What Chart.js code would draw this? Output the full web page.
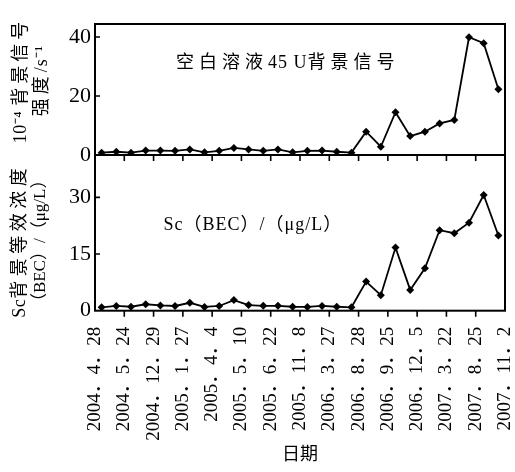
<!DOCTYPE html>
<html>
<head>
<meta charset="utf-8">
<script src="https://cdn.jsdelivr.net/npm/chart.js@4.4.1/dist/chart.umd.min.js"></script>
<style>
  html, body { margin: 0; padding: 0; background: #fff; }
</style>
</head>
<body>
<canvas id="bec-chart" width="515" height="472"></canvas>
<script>
// x: sampling order, one point per measurement date
const sampleIdx = [0, 1, 2, 3, 4, 5, 6, 7, 8, 9, 10, 11, 12, 13, 14, 15, 16, 17, 18, 19, 20, 21, 22, 23, 24, 25, 26, 27];
const dateLabels = ['2004．4．28', '2004．5．24', '2004．12．29', '2005．1．27', '2005．4．4', '2005．5．10', '2005．6．22',
  '2005．11．8', '2006．3．27', '2006．8．28', '2006．9．25', '2006．12．5', '2007．3．22', '2007．8．25', '2007．11．2'];
// 空白溶液45 U背景信号 (10^-4 s^-1)
const signalU = [0.8, 1.1, 0.8, 1.5, 1.5, 1.4, 1.9, 0.9, 1.4, 2.4, 1.9, 1.4, 1.9, 0.9, 1.4, 1.5, 1.1, 0.8,
  7.9, 2.8, 14.5, 6.4, 7.9, 10.7, 11.9, 39.9, 37.9, 22.3];
// Sc(BEC) (ug/L)
const becSc = [0.9, 1.25, 1.05, 1.7, 1.4, 1.25, 2.1, 1.0, 1.25, 2.8, 1.5, 1.3, 1.3, 1.05, 1.0, 1.25, 1.05, 0.9,
  7.7, 4.1, 16.7, 5.5, 11.2, 21.3, 20.5, 23.3, 30.6, 19.9];
const topTicks = [0, 20, 40];
const botTicks = [0, 15, 30];

const serif = "'Liberation Serif', 'Noto Sans CJK SC', serif";

const toPoints = vals => sampleIdx.map((x, i) => ({x: x, y: vals[i]}));

const lineStyle = {
  borderColor: '#000',
  borderWidth: 1.8,
  pointStyle: 'rectRot',
  pointRadius: 4,
  pointBackgroundColor: '#000',
  pointBorderColor: '#000',
  pointBorderWidth: 0,
  tension: 0,
  fill: false
};

// draws text pieces [text, letterSpacing] centred on (x, y), optionally rotated
function pieces(ctx, parts, x, y, rot) {
  ctx.save();
  ctx.translate(x, y);
  if (rot) ctx.rotate(rot);
  ctx.textAlign = 'left';
  ctx.textBaseline = 'middle';
  const widths = parts.map(p => { ctx.letterSpacing = p[1] + 'px'; return ctx.measureText(p[0]).width; });
  let cx = -widths.reduce((a, b) => a + b, 0) / 2;
  parts.forEach((p, i) => {
    ctx.letterSpacing = p[1] + 'px';
    ctx.fillText(p[0], cx, 0);
    cx += widths[i];
  });
  ctx.restore();
}

const framePlugin = {
  id: 'frame',
  afterDraw(chart) {
    const ctx = chart.ctx;
    const {left, right, top, bottom} = chart.chartArea;
    const x = chart.scales.x, yTop = chart.scales.yTop, yBot = chart.scales.yBot;
    const mid = yTop.bottom;
    ctx.save();
    ctx.strokeStyle = '#000';
    ctx.lineWidth = 2;
    ctx.strokeRect(left, top, right - left, bottom - top);
    ctx.beginPath();
    ctx.moveTo(left, mid);
    ctx.lineTo(right, mid);
    ctx.stroke();

    ctx.lineWidth = 1.6;
    ctx.beginPath();
    x.ticks.forEach(t => {
      const px = x.getPixelForValue(t.value);
      if (px < left + 2 || px > right - 2) return;
      ctx.moveTo(px, mid); ctx.lineTo(px, mid + 6);
      ctx.moveTo(px, bottom); ctx.lineTo(px, bottom + 6);
    });
    [yTop, yBot].forEach(s => {
      s.ticks.forEach(t => {
        const py = s.getPixelForValue(t.value);
        if (py < s.top + 2 || py > s.bottom - 2) return;
        ctx.moveTo(left, py); ctx.lineTo(left + 5, py);
      });
    });
    ctx.stroke();

    ctx.fillStyle = '#000';
    ctx.font = '18px ' + serif;
    const up = -Math.PI / 2;

    // axis titles, two columns each
    const topMid = (yTop.top + yTop.bottom) / 2 - 9;
    const botMid = (yBot.top + yBot.bottom) / 2 + 8;
    pieces(ctx, [['10⁻⁴ ', 0.5], ['背景信号', 4]], 21, topMid, up);
    pieces(ctx, [['强度', 4], ['/s⁻¹', 1]], 42, topMid, up);
    pieces(ctx, [['Sc', 0.5], ['背景等效浓度', 4.5]], 20, botMid, up);
    ctx.font = '17px ' + serif;
    pieces(ctx, [['（BEC）/（μg/L）', 0]], 41, botMid, up);

    // panel captions
    ctx.font = '18px ' + serif;
    pieces(ctx, [['空白溶液', 5], ['45 U', 1], ['背景信号', 5]], left + (right - left) * 0.47, yTop.top + 39, 0);
    pieces(ctx, [['Sc（BEC）/（μg/L）', 1]], left + (right - left) * 0.385, yBot.top + 70, 0);
    ctx.restore();
  }
};

const titleFont = {family: serif, size: 18, weight: 'normal', lineHeight: 1.17};

const cfg = {
  type: 'line',
  data: {
    datasets: [
      Object.assign({label: 'U', data: toPoints(signalU), xAxisID: 'x', yAxisID: 'yTop'}, lineStyle),
      Object.assign({label: 'Sc', data: toPoints(becSc), xAxisID: 'x', yAxisID: 'yBot'}, lineStyle)
    ]
  },
  options: {
    responsive: false,
    animation: false,
    devicePixelRatio: 1,
    layout: {padding: {top: 24, right: 10, left: 0, bottom: 0}},
    plugins: {legend: {display: false}, tooltip: {enabled: false}},
    scales: {
      x: {
        type: 'linear',
        position: 'bottom',
        min: -0.45,
        max: 27.45,
        grid: {display: false, drawTicks: false},
        border: {display: false},
        afterBuildTicks: s => {
          s.ticks = dateLabels.map((_, k) => ({value: s.min + k * (s.max - s.min) / (dateLabels.length - 1)}));
        },
        afterFit: s => {
          s.height = 161.3;
          s.paddingLeft = 0;
          s.paddingRight = 0;
        },
        ticks: {
          autoSkip: false,
          minRotation: 90,
          maxRotation: 90,
          padding: 16,
          color: '#000',
          font: {family: serif, size: 19},
          callback: (v, i) => dateLabels[i]
        },
        title: {
          display: true,
          text: '日期',
          color: '#000',
          font: titleFont,
          padding: {top: 0, bottom: 6}
        }
      },
      yBot: {
        type: 'linear',
        position: 'left',
        stack: 'panels',
        stackWeight: 155.7,
        min: 0,
        max: 41.2,
        grid: {display: false, drawTicks: false},
        border: {display: false},
        afterBuildTicks: s => { s.ticks = botTicks.map(v => ({value: v})); },
        afterFit: s => { s.width = 95; },
        ticks: {padding: 4, color: '#000', font: {family: serif, size: 22}}
      },
      yTop: {
        type: 'linear',
        position: 'left',
        stack: 'panels',
        stackWeight: 131,
        min: 0,
        max: 44.4,
        grid: {display: false, drawTicks: false},
        border: {display: false},
        afterBuildTicks: s => { s.ticks = topTicks.map(v => ({value: v})); },
        afterFit: s => { s.width = 95; },
        ticks: {padding: 4, color: '#000', font: {family: serif, size: 22}}
      }
    }
  },
  plugins: [framePlugin]
};

const becChart = new Chart(document.getElementById('bec-chart'), cfg);
</script>
</body>
</html>
